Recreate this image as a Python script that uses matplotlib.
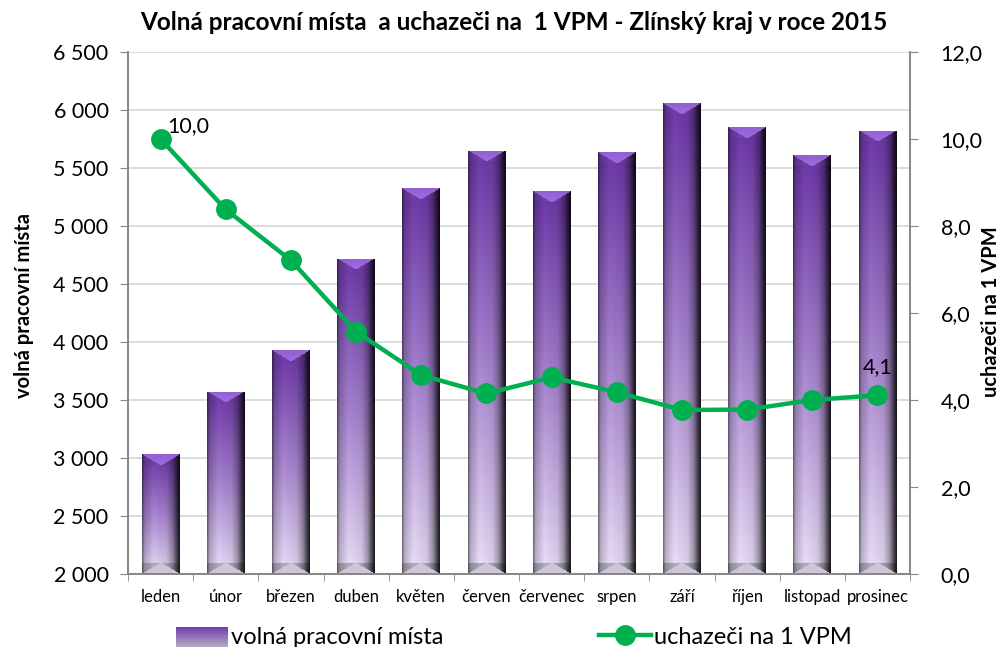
import numpy as np
import matplotlib
matplotlib.use("Agg")
import matplotlib.pyplot as plt
from matplotlib.legend_handler import HandlerBase
from matplotlib.patches import Rectangle
from matplotlib.lines import Line2D

plt.rcParams['font.family'] = ['Lato', 'DejaVu Sans']

# ---------------- data ----------------
months = ["leden", "únor", "březen", "duben", "květen", "červen",
          "červenec", "srpen", "září", "říjen", "listopad", "prosinec"]
vacancies = [3034, 3569, 3931, 4716, 5327, 5647, 5299, 5636, 6060, 5853, 5612, 5819]
applicants_per_vpm = [10.0, 8.38, 7.21, 5.57, 4.57, 4.15, 4.52, 4.18, 3.77, 3.78, 4.00, 4.11]
left_ticks = [2000, 2500, 3000, 3500, 4000, 4500, 5000, 5500, 6000, 6500]
right_ticks = [0, 2, 4, 6, 8, 10, 12]
title = "Volná pracovní místa  a uchazeči na  1 VPM - Zlínský kraj v roce 2015"
left_label = "volná pracovní místa"
right_label = "uchazeči na 1 VPM"

GREEN = "#00b050"
AXIS_GREY = "#868686"
GRID = "#d9d9d9"

fig = plt.figure(figsize=(10.05, 6.47), dpi=100)
ax = fig.add_axes([128/1005, 1-574/647, (910-128)/1005, (574-52)/647])
ax2 = ax.twinx()

ymin, ymax = left_ticks[0], left_ticks[-1]
ax.set_ylim(ymin, ymax)
ax.set_xlim(-0.5, len(months) - 0.5)
ax2.set_ylim(right_ticks[0], right_ticks[-1])

x = np.arange(len(months))
bw = 0.58
heights = [v - ymin for v in vacancies]
bars = ax.bar(x, heights, bottom=ymin, width=bw, facecolor="none", edgecolor="none", zorder=2)


def bar_rgb(h_px, w_px):
    h_px = max(int(h_px), 4)
    t = np.linspace(0, 1, h_px)[:, None]
    top = np.array([0.40, 0.20, 0.62])
    mid = np.array([0.62, 0.49, 0.77])
    bot = np.array([0.87, 0.83, 0.92])
    col = np.where(t[..., None] < 0.5,
                   top + (mid - top) * (t[..., None] / 0.5),
                   mid + (bot - mid) * ((t[..., None] - 0.5) / 0.5))
    col = np.broadcast_to(col, (h_px, w_px, 3)).copy()
    xs = np.linspace(0, 1, w_px)
    prof = np.interp(xs, [0, 0.06, 0.3, 0.65, 0.82, 0.93, 1.0],
                     [0.55, 0.85, 1.06, 0.98, 0.72, 0.35, 0.15])
    col = col * prof[None, :, None]
    # top bevel
    d = 11
    for r in range(min(d, h_px)):
        half = 0.5 * (1 - r / d)
        inside = np.abs(xs - 0.5) < half
        col[r, inside] = np.array([0.60, 0.40, 0.86]) * (0.95 + 0.1 * r / d)
        col[r, ~inside] = np.array([0.38, 0.22, 0.56]) * prof[~inside, None] * 1.1
    # bottom bevel
    for r in range(min(d, h_px)):
        rr = h_px - 1 - r
        half = 0.5 * (1 - r / d)
        inside = np.abs(xs - 0.5) < half
        col[rr, inside] = np.array([0.80, 0.78, 0.84])
        col[rr, ~inside] = np.array([0.62, 0.60, 0.66]) * prof[~inside, None] * 1.05
    return np.clip(col, 0, 1)


fig.canvas.draw()
for b, v in zip(bars, vacancies):
    x0 = b.get_x()
    w = b.get_width()
    p0 = ax.transData.transform((x0, ymin))
    p1 = ax.transData.transform((x0 + w, v))
    img = bar_rgb(abs(p1[1] - p0[1]), max(int(abs(p1[0] - p0[0])), 4))
    im = ax.imshow(img, extent=(x0, x0 + w, ymin, v), aspect="auto",
                   interpolation="bilinear", zorder=2)
    im.set_clip_path(b)
ax.set_xlim(-0.5, len(months) - 0.5)
ax.set_ylim(ymin, ymax)

# grid
ax.set_yticks(left_ticks)
ax.set_yticklabels([f"{t:,}".replace(",", " ") for t in left_ticks], fontsize=15.5)
ax.yaxis.grid(True, color=GRID, linewidth=1.3, zorder=0)
ax.set_axisbelow(True)

ax.set_xticks(x)
ax.set_xticklabels(months, fontsize=12)
ax.set_xticks(np.arange(-0.5, len(months)), minor=True)
ax.tick_params(axis="x", which="major", length=0, pad=11)
ax.tick_params(axis="x", which="minor", length=5, color=AXIS_GREY, direction="out")
ax.tick_params(axis="y", length=6, color=AXIS_GREY, direction="out", pad=8)

# line
ax2.plot(x, applicants_per_vpm, color=GREEN, linewidth=3.2, marker="o",
         markersize=14, zorder=5)
ax2.set_yticks(right_ticks)
ax2.set_yticklabels([f"{t:.1f}".replace(".", ",") for t in right_ticks], fontsize=15.5)
ax2.tick_params(axis="y", length=6, color=AXIS_GREY, direction="out", pad=16)
ax2.annotate(f"{applicants_per_vpm[0]:.1f}".replace(".", ","), (x[0], applicants_per_vpm[0]),
             xytext=(5, 9), textcoords="offset points", ha="left", va="center", fontsize=15.5)
ax2.annotate(f"{applicants_per_vpm[-1]:.1f}".replace(".", ","), (x[-1], applicants_per_vpm[-1]),
             xytext=(0, 20), textcoords="offset points", ha="center", va="center", fontsize=15.5)

for a in (ax, ax2):
    a.spines["top"].set_visible(False)
    for s in ("left", "right", "bottom"):
        a.spines[s].set_color(AXIS_GREY)
        a.spines[s].set_linewidth(1.2)

fig.text(514/1005, 1-23/647, title, ha="center", va="center", fontsize=17.5, fontweight="bold")
fig.text(24/1005, 1-306/647, left_label, rotation=90, ha="center", va="center",
         fontsize=14.5, fontweight="bold")
fig.text(991/1005, 1-312/647, right_label, rotation=90, ha="center", va="center",
         fontsize=14.5, fontweight="bold")


# legend
class GradHandler(HandlerBase):
    def create_artists(self, legend, orig_handle, xdescent, ydescent, width, height, fontsize, trans):
        n = 12
        cols_top = np.array([0.45, 0.25, 0.68])
        cols_bot = np.array([0.70, 0.66, 0.76])
        arts = []
        for i in range(n):
            f = i / (n - 1)
            c = cols_bot + (cols_top - cols_bot) * f
            r = Rectangle((-xdescent, -ydescent + height * 1.2 * i / n - 0.2 * height),
                          width, height * 1.2 / n, facecolor=c, edgecolor="none", transform=trans)
            arts.append(r)
        return arts


bar_handle = Rectangle((0, 0), 1, 1)
line_handle = Line2D([], [], color=GREEN, linewidth=3.2, marker="o", markersize=14)
fig.legend([bar_handle, line_handle], [left_label, right_label],
           handler_map={Rectangle: GradHandler()},
           loc="center", bbox_to_anchor=(514/1005, 1-637/647), ncol=2, frameon=False,
           fontsize=17, handlelength=2.2, handletextpad=0.12, columnspacing=6.6,
           borderpad=0, borderaxespad=0)

fig.savefig("out.png", dpi=100)
